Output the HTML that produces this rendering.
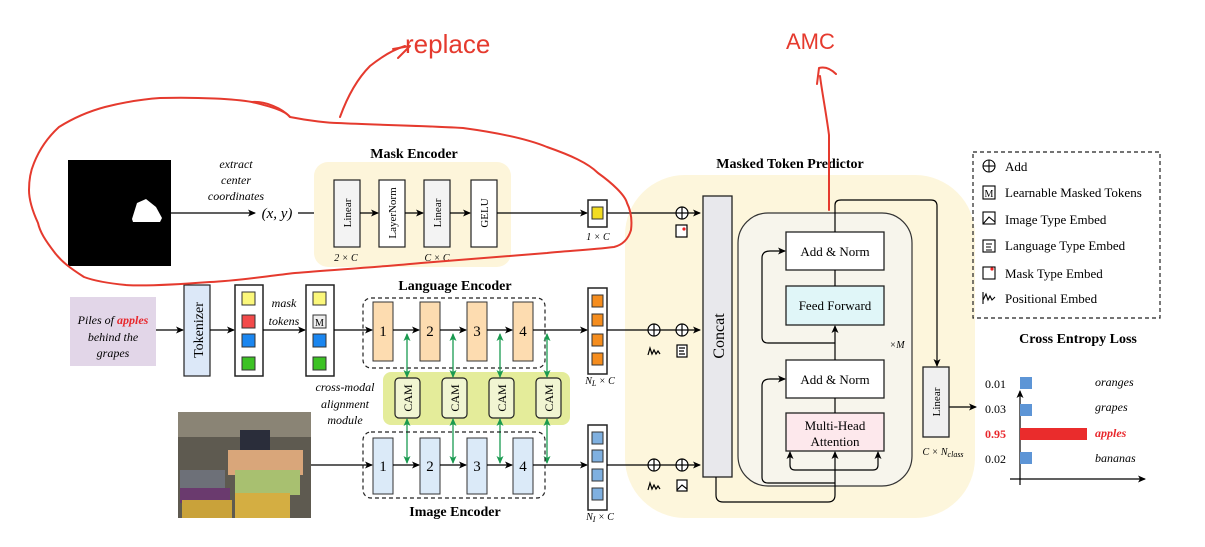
<!DOCTYPE html>
<html><head><meta charset="utf-8"><style>
html,body{margin:0;padding:0;background:#fff;}
svg{display:block;}
text{font-family:"Liberation Serif",serif;}
text.red{font-family:"Liberation Sans",sans-serif;}
</style></head><body>
<svg width="1205" height="547" viewBox="0 0 1205 547" xmlns="http://www.w3.org/2000/svg">
<defs>
<marker id="a" markerWidth="8" markerHeight="8" refX="7" refY="4" orient="auto" markerUnits="userSpaceOnUse"><path d="M0,0.5 L8,4 L0,7.5 L2,4 Z" fill="#000"/></marker>
<marker id="g" markerWidth="8" markerHeight="8" refX="7" refY="4" orient="auto-start-reverse" markerUnits="userSpaceOnUse"><path d="M0,0.5 L8,4 L0,7.5 L2,4 Z" fill="#1a9a50"/></marker>
</defs>

<!-- Mask encoder -->
<rect x="68" y="160" width="103" height="106" fill="#000"/>
<path d="M132,219 L137,203 L146,199 L156,207 L162,218 L160,222 L133,222 Z" fill="#fff"/>
<g font-style="italic" font-size="12" text-anchor="middle"><text x="236" y="168">extract</text><text x="236" y="184">center</text><text x="236" y="200">coordinates</text></g>
<line x1="171" y1="213" x2="255" y2="213" stroke="#000" stroke-width="1.2" marker-end="url(#a)"/>
<text x="277" y="218" font-size="15" font-style="italic" text-anchor="middle">(x, y)</text>
<line x1="298" y1="213" x2="333" y2="213" stroke="#000" stroke-width="1.2" marker-end="url(#a)"/>
<text x="414" y="158" font-size="14" font-weight="bold" text-anchor="middle">Mask Encoder</text>
<rect x="314" y="162" width="197" height="105" rx="14" fill="#fdf5da"/>
<g stroke="#222" stroke-width="1.2">
<rect x="334" y="180" width="26" height="67" fill="#f3f3f3"/>
<rect x="379" y="180" width="26" height="67" fill="#fff"/>
<rect x="424" y="180" width="26" height="67" fill="#f3f3f3"/>
<rect x="471" y="180" width="26" height="67" fill="#fff"/>
</g>
<g font-size="11" text-anchor="middle">
<text transform="translate(351,213) rotate(-90)">Linear</text>
<text transform="translate(396,213) rotate(-90)">LayerNorm</text>
<text transform="translate(441,213) rotate(-90)">Linear</text>
<text transform="translate(488,213) rotate(-90)">GELU</text>
</g>
<g stroke="#000" stroke-width="1.2" marker-end="url(#a)"><line x1="360" y1="213" x2="378" y2="213"/><line x1="405" y1="213" x2="423" y2="213"/><line x1="450" y1="213" x2="470" y2="213"/><line x1="497" y1="213" x2="587" y2="213"/></g>
<g font-size="10" font-style="italic" text-anchor="middle"><text x="346" y="261">2 × C</text><text x="437" y="261">C × C</text><text x="598" y="240">1 × C</text></g>
<rect x="588" y="200" width="19" height="27" fill="#fff" stroke="#222" stroke-width="1.5"/>
<rect x="592" y="207" width="11" height="12" fill="#f2dc22" stroke="#333"/>

<!-- Language -->
<rect x="70" y="297" width="86" height="69" fill="#e2d6e8"/>
<g font-size="12" font-style="italic" text-anchor="middle"><text x="113" y="324">Piles of <tspan fill="#e8272c" font-weight="bold">apples</tspan></text><text x="113" y="341">behind the</text><text x="113" y="357">grapes</text></g>
<line x1="156" y1="330" x2="183" y2="330" stroke="#000" stroke-width="1.2" marker-end="url(#a)"/>
<rect x="184" y="285" width="26" height="91" fill="#dce8f8" stroke="#222" stroke-width="1.2"/>
<text transform="translate(203,330) rotate(-90)" font-size="14" text-anchor="middle">Tokenizer</text>
<line x1="210" y1="330" x2="234" y2="330" stroke="#000" stroke-width="1.2" marker-end="url(#a)"/>
<rect x="235" y="285" width="28" height="91" fill="#fff" stroke="#222" stroke-width="1.5"/>
<g stroke="#333"><rect x="242" y="292" width="13" height="13" fill="#fbf77a"/><rect x="242" y="315" width="13" height="13" fill="#f24a4a"/><rect x="242" y="334" width="13" height="13" fill="#1a86f0"/><rect x="242" y="357" width="13" height="13" fill="#3cc224"/></g>
<g font-size="12" font-style="italic" text-anchor="middle"><text x="284" y="307">mask</text><text x="284" y="325">tokens</text></g>
<line x1="263" y1="330" x2="305" y2="330" stroke="#000" stroke-width="1.2" marker-end="url(#a)"/>
<rect x="306" y="285" width="28" height="91" fill="#fff" stroke="#222" stroke-width="1.5"/>
<g stroke="#333"><rect x="313" y="292" width="13" height="13" fill="#fbf77a"/><rect x="313" y="315" width="13" height="13" fill="#eee"/><rect x="313" y="334" width="13" height="13" fill="#1a86f0"/><rect x="313" y="357" width="13" height="13" fill="#3cc224"/></g>
<text x="319.5" y="326" font-size="10" text-anchor="middle">M</text>
<line x1="334" y1="330" x2="372" y2="330" stroke="#000" stroke-width="1.2" marker-end="url(#a)"/>
<text x="455" y="290" font-size="14" font-weight="bold" text-anchor="middle">Language Encoder</text>
<rect x="363" y="298" width="182" height="70" rx="8" fill="none" stroke="#222" stroke-width="1.2" stroke-dasharray="4,3"/>
<g stroke="#333" fill="#fddcb0"><rect x="373" y="302" width="20" height="59"/><rect x="420" y="302" width="20" height="59"/><rect x="467" y="302" width="20" height="59"/><rect x="513" y="302" width="20" height="59"/></g>
<g font-size="15" text-anchor="middle"><text x="383" y="336">1</text><text x="430" y="336">2</text><text x="477" y="336">3</text><text x="523" y="336">4</text></g>
<g stroke="#000" stroke-width="1.2" marker-end="url(#a)"><line x1="393" y1="330" x2="419" y2="330"/><line x1="440" y1="330" x2="466" y2="330"/><line x1="487" y1="330" x2="512" y2="330"/><line x1="533" y1="330" x2="587" y2="330"/></g>
<rect x="588" y="288" width="19" height="86" fill="#fff" stroke="#222" stroke-width="1.5"/>
<g stroke="#333" fill="#f58d1e"><rect x="592" y="295" width="11" height="12"/><rect x="592" y="314" width="11" height="12"/><rect x="592" y="334" width="11" height="12"/><rect x="592" y="353" width="11" height="12"/></g>
<text x="600" y="384" font-size="10" font-style="italic" text-anchor="middle">N<tspan font-size="8" dy="2">L</tspan><tspan dy="-2"> × C</tspan></text>

<!-- CAM -->
<rect x="383" y="372" width="187" height="53" rx="8" fill="#e4ec9a"/>
<g stroke="#222" stroke-width="1.2" fill="#f1f5d2"><rect x="395" y="378" width="25" height="40" rx="4"/><rect x="442" y="378" width="25" height="40" rx="4"/><rect x="489" y="378" width="25" height="40" rx="4"/><rect x="536" y="378" width="25" height="40" rx="4"/></g>
<g font-size="12" text-anchor="middle"><text transform="translate(412,398) rotate(-90)">CAM</text><text transform="translate(459,398) rotate(-90)">CAM</text><text transform="translate(506,398) rotate(-90)">CAM</text><text transform="translate(553,398) rotate(-90)">CAM</text></g>
<g font-size="12" font-style="italic" text-anchor="middle"><text x="345" y="391">cross-modal</text><text x="345" y="408">alignment</text><text x="345" y="424">module</text></g>
<g stroke="#1a9a50" stroke-width="1.3" marker-start="url(#g)" marker-end="url(#g)"><line x1="407" y1="334" x2="407" y2="377"/><line x1="453" y1="334" x2="453" y2="377"/><line x1="500" y1="334" x2="500" y2="377"/><line x1="547" y1="334" x2="547" y2="377"/><line x1="407" y1="419" x2="407" y2="463"/><line x1="453" y1="419" x2="453" y2="463"/><line x1="500" y1="419" x2="500" y2="463"/><line x1="547" y1="419" x2="547" y2="463"/></g>

<!-- Image -->
<rect x="178" y="412" width="133" height="106" fill="#5e5a50"/>
<rect x="178" y="412" width="133" height="25" fill="#8a8475"/>
<rect x="240" y="430" width="30" height="30" fill="#2a2d3a"/>
<rect x="228" y="450" width="75" height="25" fill="#d9a67a"/>
<rect x="180" y="470" width="45" height="20" fill="#6d7078"/>
<rect x="235" y="470" width="65" height="25" fill="#a8c070"/>
<rect x="180" y="488" width="50" height="15" fill="#6a3a6e"/>
<rect x="182" y="500" width="50" height="18" fill="#c9a23a"/><rect x="235" y="493" width="55" height="25" fill="#d4ae42"/>
<line x1="311" y1="465" x2="372" y2="465" stroke="#000" stroke-width="1.2" marker-end="url(#a)"/>
<rect x="363" y="432" width="182" height="66" rx="8" fill="none" stroke="#222" stroke-width="1.2" stroke-dasharray="4,3"/>
<g stroke="#333" fill="#dbeaf8"><rect x="373" y="438" width="20" height="56"/><rect x="420" y="438" width="20" height="56"/><rect x="467" y="438" width="20" height="56"/><rect x="513" y="438" width="20" height="56"/></g>
<g font-size="15" text-anchor="middle"><text x="383" y="471">1</text><text x="430" y="471">2</text><text x="477" y="471">3</text><text x="523" y="471">4</text></g>
<g stroke="#000" stroke-width="1.2" marker-end="url(#a)"><line x1="393" y1="465" x2="419" y2="465"/><line x1="440" y1="465" x2="466" y2="465"/><line x1="487" y1="465" x2="512" y2="465"/><line x1="533" y1="465" x2="587" y2="465"/></g>
<text x="455" y="516" font-size="14" font-weight="bold" text-anchor="middle">Image Encoder</text>
<rect x="588" y="425" width="19" height="85" fill="#fff" stroke="#222" stroke-width="1.5"/>
<g stroke="#333" fill="#7fb0e0"><rect x="592" y="432" width="11" height="12"/><rect x="592" y="450" width="11" height="12"/><rect x="592" y="469" width="11" height="12"/><rect x="592" y="488" width="11" height="12"/></g>
<text x="600" y="520" font-size="10" font-style="italic" text-anchor="middle">N<tspan font-size="8" dy="2">I</tspan><tspan dy="-2"> × C</tspan></text>

<!-- Predictor -->
<rect x="625" y="175" width="350" height="343" rx="60" fill="#fdf6dc"/>
<text x="790" y="168" font-size="14" font-weight="bold" text-anchor="middle">Masked Token Predictor</text>
<g stroke="#000" stroke-width="1.2" fill="none">
<line x1="607" y1="213" x2="700" y2="213" marker-end="url(#a)"/>
<line x1="607" y1="330" x2="700" y2="330" marker-end="url(#a)"/>
<line x1="607" y1="465" x2="700" y2="465" marker-end="url(#a)"/>
<circle cx="682" cy="213" r="6" fill="#fff"/><line x1="676" y1="213" x2="688" y2="213"/><line x1="682" y1="207" x2="682" y2="219"/>
<circle cx="654" cy="330" r="6" fill="#fff"/><line x1="648" y1="330" x2="660" y2="330"/><line x1="654" y1="324" x2="654" y2="336"/>
<circle cx="682" cy="330" r="6" fill="#fff"/><line x1="676" y1="330" x2="688" y2="330"/><line x1="682" y1="324" x2="682" y2="336"/>
<circle cx="654" cy="465" r="6" fill="#fff"/><line x1="648" y1="465" x2="660" y2="465"/><line x1="654" y1="459" x2="654" y2="471"/>
<circle cx="682" cy="465" r="6" fill="#fff"/><line x1="676" y1="465" x2="688" y2="465"/><line x1="682" y1="459" x2="682" y2="471"/>
<rect x="676" y="225" width="11" height="12" fill="#fff"/>
<rect x="677" y="345" width="10" height="12" fill="#fff"/><path d="M679,348h6M679,351h5M679,354h6"/>
<rect x="677" y="480" width="10" height="11" fill="#fff"/><path d="M677,490 L682,485 L687,489"/>
<path d="M648,355 L650,348 L652,354 L654,350 L656,354 L658,351 L660,354"/>
<path d="M648,490 L650,483 L652,489 L654,485 L656,489 L658,486 L660,489"/>
</g>
<circle cx="684" cy="229" r="1.6" fill="#e22"/>
<rect x="703" y="196" width="29" height="281" fill="#e8e8ec" stroke="#222" stroke-width="1.3"/>
<text transform="translate(724,336) rotate(-90)" font-size="16" text-anchor="middle">Concat</text>
<rect x="738" y="213" width="174" height="273" rx="30" fill="#f7f5ec" stroke="#333" stroke-width="1.2"/>
<g stroke="#222" stroke-width="1.3">
<rect x="786" y="232" width="98" height="38" fill="#fff"/>
<rect x="786" y="286" width="98" height="39" fill="#e0f6f8"/>
<rect x="786" y="360" width="98" height="38" fill="#fff"/>
<rect x="786" y="413" width="98" height="38" fill="#fde8ec"/>
</g>
<g font-size="13" text-anchor="middle"><text x="835" y="256">Add &amp; Norm</text><text x="835" y="310">Feed Forward</text><text x="835" y="384">Add &amp; Norm</text><text x="835" y="430">Multi-Head</text><text x="835" y="446">Attention</text></g>
<g stroke="#000" stroke-width="1.2" fill="none">
<line x1="835" y1="270" x2="835" y2="286"/>
<line x1="835" y1="398" x2="835" y2="413"/>
<line x1="835" y1="360" x2="835" y2="326" marker-end="url(#a)"/>
<path d="M835,343 H768 Q762,343 762,337 V258 Q762,251 770,251 H785" marker-end="url(#a)"/>
<path d="M835,483 H768 Q762,483 762,477 V386 Q762,379 770,379 H785" marker-end="url(#a)"/>
<path d="M716,477 V495 Q716,502 723,502 H828 Q835,502 835,495 V452" marker-end="url(#a)"/>
<path d="M835,470 H795 Q790,470 790,465 V452" marker-end="url(#a)"/>
<path d="M835,470 H873 Q878,470 878,465 V452" marker-end="url(#a)"/>
<path d="M835,232 V205 Q835,200 841,200 H931 Q937,200 937,206 V366" marker-end="url(#a)"/>
<line x1="949" y1="407" x2="976" y2="407" marker-end="url(#a)"/>
</g>
<text x="897" y="348" font-size="10" font-style="italic" text-anchor="middle">×M</text>
<rect x="923" y="367" width="26" height="70" fill="#f0f0f0" stroke="#222" stroke-width="1.3"/>
<text transform="translate(940,402) rotate(-90)" font-size="11" text-anchor="middle">Linear</text>
<text x="943" y="455" font-size="10" font-style="italic" text-anchor="middle">C × N<tspan font-size="8" dy="2">class</tspan></text>

<!-- Legend -->
<rect x="973" y="152" width="187" height="166" fill="none" stroke="#222" stroke-width="1.2" stroke-dasharray="4,3"/>
<g stroke="#000" stroke-width="1.1" fill="none">
<circle cx="989" cy="166" r="6"/><line x1="983" y1="166" x2="995" y2="166"/><line x1="989" y1="160" x2="989" y2="172"/>
<rect x="983" y="186" width="12" height="13"/>
<rect x="983" y="212" width="12" height="12"/><path d="M983,224 L989,217 L995,222"/>
<rect x="983" y="240" width="12" height="12"/><path d="M986,244h6M986,247h5M986,250h6"/>
<rect x="983" y="267" width="12" height="12"/>
<path d="M983,304 V292 M983,300 L986,294 L988,300 L990,296 L992,300 L995,297"/>
</g>
<text x="989" y="197" font-size="10" text-anchor="middle">M</text>
<circle cx="992" cy="269" r="1.6" fill="#e22"/>
<g font-size="13"><text x="1005" y="171">Add</text><text x="1005" y="197">Learnable Masked Tokens</text><text x="1005" y="224">Image Type Embed</text><text x="1005" y="250">Language Type Embed</text><text x="1005" y="278">Mask Type Embed</text><text x="1005" y="303">Positional Embed</text></g>

<!-- Loss -->
<text x="1078" y="343" font-size="14" font-weight="bold" text-anchor="middle">Cross Entropy Loss</text>
<g stroke="#000" stroke-width="1.2"><line x1="1020" y1="485" x2="1020" y2="391" marker-end="url(#a)"/><line x1="1010" y1="479" x2="1145" y2="479" marker-end="url(#a)"/></g>
<rect x="1020" y="377" width="12" height="12" fill="#5d95d6"/>
<rect x="1020" y="404" width="12" height="12" fill="#5d95d6"/>
<rect x="1020" y="428" width="67" height="12" fill="#ea2c2c"/>
<rect x="1020" y="452" width="12" height="12" fill="#5d95d6"/>
<g font-size="12"><text x="985" y="388">0.01</text><text x="985" y="413">0.03</text><text x="985" y="438" fill="#e8272c" font-weight="bold">0.95</text><text x="985" y="463">0.02</text></g>
<g font-size="12" font-style="italic"><text x="1095" y="386">oranges</text><text x="1095" y="411">grapes</text><text x="1095" y="437" fill="#e8272c" font-weight="bold">apples</text><text x="1095" y="462">bananas</text></g>

<!-- Red annotations -->
<g stroke="#e53a2e" stroke-width="2" fill="none" stroke-linecap="round" stroke-linejoin="round">
<path d="M160,98 C200,97 235,99 252,102 C268,106 285,110 290,117 C310,121 330,123 337,123 C380,125 430,126 463,128 C500,133 530,140 547,147 C570,155 588,163 598,173 C612,183 625,195 627,203 C632,213 632,222 631,230 C628,240 622,245 614,247 C590,250 565,251 547,253 C500,257 460,260 421,263 C380,267 330,270 295,273 C260,277 235,281 210,282 C170,285 140,286 126,285 C105,283 92,280 84,277 C70,268 62,262 55,253 C45,240 40,232 38,223 C32,210 29,200 29,190 C29,178 31,170 34,163 C40,148 48,137 59,127 C75,117 90,111 105,107 C125,102 145,99 160,98 Z"/>
<path d="M252,102 C265,101 282,108 290,117"/>
<path d="M340,117 C348,95 358,78 370,66 C380,58 392,50 405,46"/>
<path d="M393,49 L410,46 L398,58"/>
<path d="M829,210 V135 C826,112 822,92 820,76 M817,84 L819,68 C826,66 832,70 836,74"/>
</g>
<text class="red" x="405" y="53" font-size="26" fill="#e53a2e">replace</text>
<text class="red" x="786" y="49" font-size="22" fill="#e53a2e">AMC</text>
</svg>
</body></html>
